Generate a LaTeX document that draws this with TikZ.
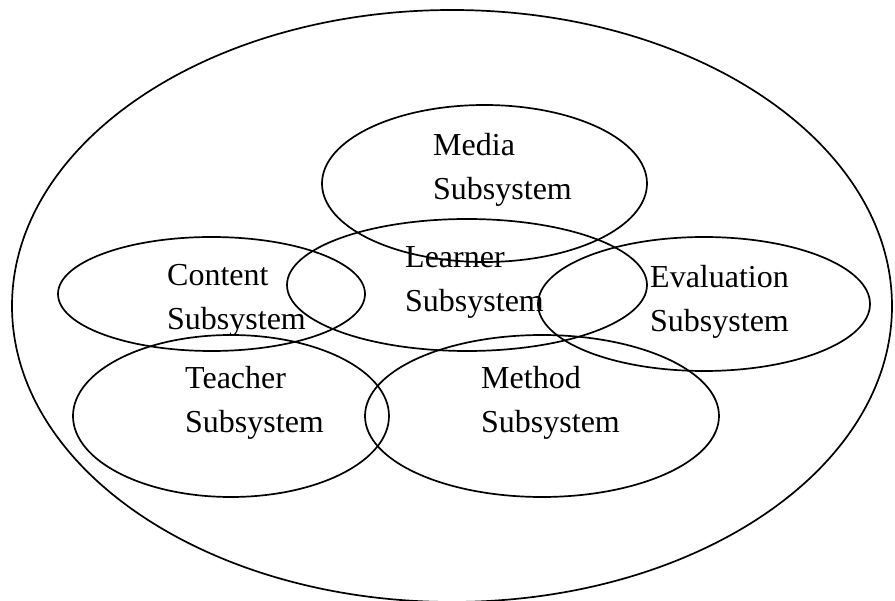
\documentclass[tikz,border=0pt]{standalone}
\usepackage{fontspec}
\setmainfont{Liberation Serif}
\usetikzlibrary{shapes.geometric}

\tikzset{
  ring/.style={ellipse, draw, line width=1.7pt, inner sep=0pt,
    minimum width=#1},
  label text/.style={anchor=base west, align=left, inner sep=0pt,
    font=\fontsize{32}{44}\selectfont}
}

\begin{document}
\begin{tikzpicture}[x=1pt, y=-1pt]
  \useasboundingbox (0,0) rectangle (895,601);

  % enclosing system
  \node[ring=880pt, minimum height=592pt] (system) at (452,306) {};

  % subsystems
  \node[ring=325pt, minimum height=157pt] (media)   at (484.5,183.5) {};
  \node[ring=360pt, minimum height=132pt] (learner) at (467,285) {};
  \node[ring=307pt, minimum height=114pt] (content) at (211.5,294) {};
  \node[ring=332pt, minimum height=134pt] (eval)    at (704,304) {};
  \node[ring=316pt, minimum height=162pt] (teacher) at (231,416) {};
  \node[ring=354pt, minimum height=162pt] (method)  at (542,416) {};

  % labels (anchored on the baseline of the second line)
  \node[label text] (media-t)   at (433,200) {Media\\Subsystem};
  \node[label text] (learner-t) at (405,312) {Learner\\Subsystem};
  \node[label text] (content-t) at (167,330) {Content\\Subsystem};
  \node[label text] (eval-t)    at (650,332) {Evaluation\\Subsystem};
  \node[label text] (teacher-t) at (185,433) {Teacher\\Subsystem};
  \node[label text] (method-t)  at (481,433) {Method\\Subsystem};
\end{tikzpicture}
\end{document}
